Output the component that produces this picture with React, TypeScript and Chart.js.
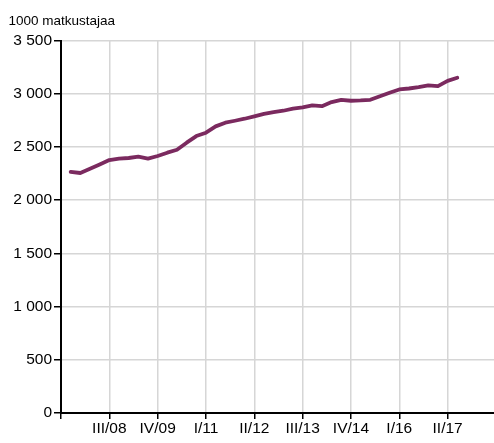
import React, { useEffect, useRef } from "react";
import { Chart, registerables } from "chart.js";

Chart.register(...registerables);

// Quarterly labels for the data points (III/07 ... III/17)
const quarters: string[] = [
  "III/07", "IV/07",
  "I/08", "II/08", "III/08", "IV/08",
  "I/09", "II/09", "III/09", "IV/09",
  "I/10", "II/10", "III/10", "IV/10",
  "I/11", "II/11", "III/11", "IV/11",
  "I/12", "II/12", "III/12", "IV/12",
  "I/13", "II/13", "III/13", "IV/13",
  "I/14", "II/14", "III/14", "IV/14",
  "I/15", "II/15", "III/15", "IV/15",
  "I/16", "II/16", "III/16", "IV/16",
  "I/17", "II/17", "III/17",
];

// Passengers, thousands
const passengers: number[] = [
  2265, 2255,
  2295, 2335, 2377, 2390,
  2396, 2408, 2390, 2415,
  2446, 2474, 2540, 2602,
  2634, 2693, 2728, 2746,
  2765, 2787, 2810, 2827,
  2840, 2859, 2871, 2890,
  2883, 2921, 2943, 2934,
  2937, 2943, 2977, 3009,
  3040, 3049, 3062, 3078,
  3071, 3121, 3150,
];

// Axis labels shown at every fifth quarter (axis starts one quarter before the data, at II/07)
const axisLabels: string[] = ["", "III/08", "IV/09", "I/11", "II/12", "III/13", "IV/14", "I/16", "II/17"];
const yTicks: number[] = [0, 500, 1000, 1500, 2000, 2500, 3000, 3500];

const unitLabel = "1000 matkustajaa";

const fmt = (v: number) => {
  const s = String(Math.round(v));
  return s.replace(/\B(?=(\d{3})+(?!\d))/g, " ");
};

export default function App() {
  const ref = useRef<HTMLCanvasElement | null>(null);

  useEffect(() => {
    if (!ref.current) return;
    const points = passengers.map((v, i) => ({ x: i + 1, y: v }));

    const unitPlugin = {
      id: "unitLabel",
      afterDraw(chart: any) {
        const ctx = chart.ctx;
        ctx.save();
        ctx.font = '13.5px "Liberation Sans", Arial, sans-serif';
        ctx.fillStyle = "#000";
        ctx.textAlign = "left";
        ctx.textBaseline = "alphabetic";
        ctx.fillText(unitLabel, 8.5, 24.5);
        ctx.restore();
      },
    };

    const chart = new Chart(ref.current, {
      type: "line",
      data: {
        datasets: [
          {
            label: unitLabel,
            data: points,
            borderColor: "#7b2a5f",
            backgroundColor: "#7b2a5f",
            borderWidth: 3.8,
            pointRadius: 0,
            tension: 0,
            borderJoinStyle: "round",
            borderCapStyle: "round",
          },
        ],
      },
      options: {
        animation: false,
        responsive: false,
        devicePixelRatio: 1,
        layout: { padding: { top: 40.5, left: 0, right: 0, bottom: 0 } },
        plugins: {
          legend: { display: false },
          tooltip: { enabled: false },
          title: { display: false },
        },
        scales: {
          x: {
            type: "linear",
            min: 0,
            max: 44.8,
            afterBuildTicks: (scale: any) => {
              scale.ticks = axisLabels.map((_, i) => ({ value: i * 5 }));
            },
            afterFit: (scale: any) => {
              scale.height = 30;
            },
            ticks: {
              autoSkip: false,
              maxRotation: 0,
              padding: 0,
              color: "#000",
              font: { family: '"Liberation Sans", Arial, sans-serif', size: 15.5 },
              callback: (v: any) => axisLabels[Math.round(Number(v) / 5)] ?? "",
            },
            grid: {
              color: "#d6d6d6",
              lineWidth: 1.5,
              tickColor: "#000",
              tickLength: 6,
              tickWidth: 1.5,
            },
            border: { color: "#000", width: 2 },
          },
          y: {
            min: 0,
            max: 3500,
            afterBuildTicks: (scale: any) => {
              scale.ticks = yTicks.map((v) => ({ value: v }));
            },
            afterFit: (scale: any) => {
              scale.width = 61;
            },
            ticks: {
              padding: 2,
              color: "#000",
              font: { family: '"Liberation Sans", Arial, sans-serif', size: 15.5 },
              callback: (v: any) => fmt(Number(v)),
            },
            grid: {
              color: "#d6d6d6",
              lineWidth: 1.5,
              tickColor: "#000",
              tickLength: 7,
              tickWidth: 1.5,
            },
            border: { color: "#000", width: 2 },
          },
        },
      },
      plugins: [unitPlugin],
    });

    return () => chart.destroy();
  }, []);

  return (
    <div style={{ position: "absolute", left: 0, top: 0, width: 494, height: 443 }}>
      <canvas ref={ref} width={494} height={443} style={{ width: 494, height: 443, display: "block" }} />
    </div>
  );
}
